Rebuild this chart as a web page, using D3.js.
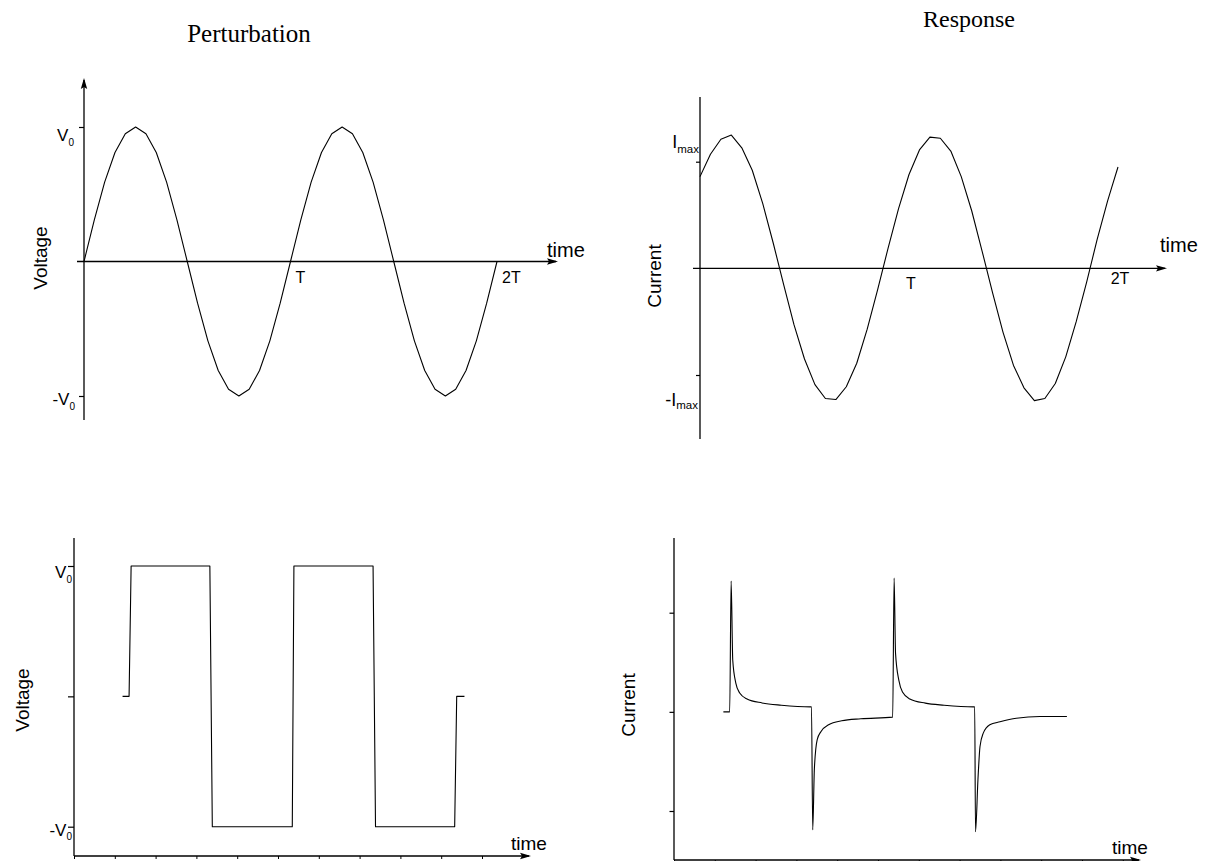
<!DOCTYPE html>
<html>
<head>
<meta charset="utf-8">
<script src="https://cdn.jsdelivr.net/npm/d3@7"></script>
<style>
	body { margin: 0; background: #fff; }
	text { font-family: "Liberation Sans", Arial, sans-serif; fill: #000; }
	.title { font-family: "Liberation Serif", "Times New Roman", serif; }
</style>
</head>
<body>
<svg id="chart" width="1207" height="861"></svg>
<script>
"use strict";

// sine perturbation: time in units of T, voltage in units of V0
const sineTime = [0, 0.05, 0.1, 0.15, 0.2, 0.25, 0.3, 0.35, 0.4, 0.45, 0.5, 0.55, 0.6, 0.65, 0.7, 0.75, 0.8, 0.85, 0.9, 0.95,
	1, 1.05, 1.1, 1.15, 1.2, 1.25, 1.3, 1.35, 1.4, 1.45, 1.5, 1.55, 1.6, 1.65, 1.7, 1.75, 1.8, 1.85, 1.9, 1.95, 2];
const sineVoltage = [0, 0.31, 0.59, 0.81, 0.95, 1, 0.95, 0.81, 0.59, 0.31, 0, -0.31, -0.59, -0.81, -0.95, -1, -0.95, -0.81, -0.59, -0.31,
	0, 0.31, 0.59, 0.81, 0.95, 1, 0.95, 0.81, 0.59, 0.31, 0, -0.31, -0.59, -0.81, -0.95, -1, -0.95, -0.81, -0.59, -0.31, 0];

// sine response: time in units of T, current in units of Imax
const responseTime = [0, 0.05, 0.1, 0.15, 0.2, 0.25, 0.3, 0.35, 0.4, 0.45, 0.5, 0.55, 0.6, 0.65, 0.7, 0.75, 0.8, 0.85, 0.9, 0.95,
	1, 1.05, 1.1, 1.15, 1.2, 1.25, 1.3, 1.35, 1.4, 1.45, 1.5, 1.55, 1.6, 1.65, 1.7, 1.75, 1.8, 1.85, 1.9, 1.95, 1.97, 2];
const responseCurrent = [0.86, 1.07, 1.21, 1.25, 1.13, 0.92, 0.61, 0.24, -0.15, -0.53, -0.85, -1.09, -1.22, -1.23, -1.11, -0.89, -0.57, -0.2, 0.19, 0.56,
	0.88, 1.11, 1.23, 1.22, 1.1, 0.86, 0.54, 0.16, -0.23, -0.6, -0.91, -1.12, -1.24, -1.22, -1.08, -0.83, -0.5, -0.13, 0.27, 0.63, 0.76, 0.95];

// square perturbation: time in tick units, voltage in units of V0
const squareTime = [1.19, 1.35, 1.4, 3.33, 3.39, 5.35, 5.39, 7.33, 7.39, 9.33, 9.38, 9.57];
const squareVoltage = [0, 0, 1, 1, -1, -1, 1, 1, -1, -1, 0, 0];

// transient response to the square wave
const transientTime = [1.21, 1.365, 1.4, 1.44, 1.515, 1.61, 1.79, 2.16, 2.63, 3.35, 3.37, 3.4, 3.44, 3.51, 3.6, 3.79, 4.11, 4.58, 5.36,
	5.395, 5.43, 5.51, 5.6, 5.78, 6.16, 6.62, 7.35, 7.37, 7.39, 7.45, 7.5, 7.58, 7.74, 7.99, 8.39, 8.97, 9.63];
const transientCurrent = [0, 0, 1.32, 0.52, 0.29, 0.19, 0.13, 0.09, 0.067, 0.05, 0.05, -1.19, -0.58, -0.28, -0.2, -0.13, -0.09, -0.07, -0.053,
	1.35, 0.59, 0.32, 0.2, 0.13, 0.088, 0.067, 0.05, 0.05, -1.21, -0.68, -0.35, -0.215, -0.13, -0.1, -0.064, -0.047, -0.047];

// tick values and labels
const periodTicks = [1, 2];
const periodLabels = ["T", "2T"];
const minorTicks = [0, 1, 2, 3, 4, 5, 6, 7, 8, 9, 10, 11];
const levelTicks = [-1, 0, 1];
const responseTicks = [-1, 1];

const svg = d3.select("#chart");

function arrowHead(g, x, y, dir) {
	// slim filled triangle with its tip at (x, y)
	let pts = dir === "right"
		? [[x, y], [x - 11, y - 3.2], [x - 9, y], [x - 11, y + 3.2]]
		: [[x, y], [x - 3.2, y + 11], [x, y + 9], [x + 3.2, y + 11]];
	g.append("path").attr("d", d3.line()(pts) + "Z").attr("fill", "#000");
}

function axisLine(g, pts) {
	g.append("path")
		.attr("d", d3.line()(pts))
		.attr("fill", "none")
		.attr("stroke", "#000")
		.attr("stroke-width", 1.3);
}

function subLabel(g, x, y, main, sub, size, subSize, dy) {
	let t = g.append("text")
		.attr("x", x).attr("y", y)
		.attr("text-anchor", "end")
		.style("font-size", size + "px")
		.text(main);
	t.append("tspan")
		.attr("dy", dy)
		.style("font-size", subSize + "px")
		.text(sub);
}

function yTitle(g, x, y, label) {
	g.append("text")
		.attr("transform", `translate(${x},${y}) rotate(-90)`)
		.attr("text-anchor", "middle")
		.style("font-size", "19px")
		.text(label);
}

function curve(g, xs, ys, t, v, shape) {
	g.append("path")
		.datum(d3.zip(t, v))
		.attr("fill", "none")
		.attr("stroke", "#000")
		.attr("stroke-width", 1.1)
		.attr("stroke-linejoin", "round")
		.attr("d", d3.line()
			.x(d => xs(d[0]))
			.y(d => ys(d[1]))
			.curve(shape || d3.curveLinear));
}

// titles
svg.append("text").attr("class", "title")
	.attr("x", 249).attr("y", 42)
	.attr("text-anchor", "middle")
	.style("font-size", "25px")
	.text("Perturbation");
svg.append("text").attr("class", "title")
	.attr("x", 969).attr("y", 27)
	.attr("text-anchor", "middle")
	.style("font-size", "24px")
	.text("Response");

// ---- top left: sine voltage ----
{
	let g = svg.append("g");
	let x = d3.scaleLinear().domain([0, 2]).range([84, 497]);
	let y = d3.scaleLinear().domain([-1, 1]).range([396, 127]);

	axisLine(g, [[x(0), 80], [x(0), 420]]);
	arrowHead(g, x(0), 78, "up");
	axisLine(g, [[77, y(0)], [556, y(0)]]);
	arrowHead(g, 558, y(0), "right");

	g.append("g")
		.attr("transform", `translate(${x(0)},0)`)
		.call(d3.axisLeft(y).tickValues(responseTicks).tickSize(5).tickFormat(""))
		.call(a => a.select(".domain").remove())
		.call(a => a.selectAll("line").attr("stroke-width", 1.2));

	subLabel(g, 74, y(1) + 14, "V", "0", 17, 10, 5);
	subLabel(g, 75, y(-1) + 9, "-V", "0", 17, 10, 5);

	g.selectAll(".plabel").data(periodTicks).enter().append("text")
		.attr("class", "plabel")
		.attr("x", d => x(d) + 5)
		.attr("y", y(0) + 21)
		.style("font-size", "16px")
		.text((d, i) => periodLabels[i]);

	g.append("text").attr("x", 547).attr("y", 257).style("font-size", "20px").text("time");
	yTitle(g, 46.5, 258, "Voltage");

	curve(g, x, y, sineTime, sineVoltage);
}

// ---- top right: sine current ----
{
	let g = svg.append("g");
	let x = d3.scaleLinear().domain([0, 2]).range([700, 1118]);
	let y = d3.scaleLinear().domain([-1, 1]).range([375, 161.7]);

	axisLine(g, [[x(0), 97], [x(0), 439]]);
	axisLine(g, [[693, y(0)], [1165, y(0)]]);
	arrowHead(g, 1167, y(0), "right");

	g.append("g")
		.attr("transform", `translate(${x(0)},0)`)
		.call(d3.axisLeft(y).tickValues(responseTicks).tickSize(4).tickFormat(""))
		.call(a => a.select(".domain").remove())
		.call(a => a.selectAll("line").attr("stroke-width", 1.2));

	subLabel(g, 699, 148, "I", "max", 18, 11.5, 5);
	subLabel(g, 698, 406, "-I", "max", 18, 11.5, 3);

	g.selectAll(".plabel").data(periodTicks).enter().append("text")
		.attr("class", "plabel")
		.attr("x", d => x(d) + 2)
		.attr("y", (d, i) => y(0) + (i ? 16 : 21))
		.attr("text-anchor", "middle")
		.style("font-size", "16px")
		.text((d, i) => periodLabels[i]);

	g.append("text").attr("x", 1160).attr("y", 252).style("font-size", "20px").text("time");
	yTitle(g, 661, 276, "Current");

	curve(g, x, y, responseTime, responseCurrent);
}

// ---- bottom left: square voltage ----
{
	let g = svg.append("g");
	let x = d3.scaleLinear().domain([0, 10]).range([74, 482]);
	let y = d3.scaleLinear().domain([-1, 1]).range([826.7, 566]);

	axisLine(g, [[x(0), 538], [x(0), 856]]);
	axisLine(g, [[x(0), 856], [529, 856]]);
	arrowHead(g, 531, 856, "right");

	g.append("g")
		.attr("transform", `translate(${x(0)},0)`)
		.call(d3.axisLeft(y).tickValues(levelTicks).tickSize(6).tickFormat(""))
		.call(a => a.select(".domain").remove())
		.call(a => a.selectAll("line").attr("stroke-width", 1.2));
	g.append("g")
		.attr("transform", "translate(0,856)")
		.call(d3.axisBottom(x).tickValues(minorTicks.slice(0, 11)).tickSize(3).tickFormat(""))
		.call(a => a.select(".domain").remove());

	subLabel(g, 72, y(1) + 12, "V", "0", 17, 10, 5);
	subLabel(g, 72, y(-1) + 9, "-V", "0", 17, 10, 4);

	g.append("text").attr("x", 511).attr("y", 850).style("font-size", "19px").text("time");
	yTitle(g, 29, 700, "Voltage");

	curve(g, x, y, squareTime, squareVoltage);
}

// ---- bottom right: transient current ----
{
	let g = svg.append("g");
	let x = d3.scaleLinear().domain([0, 10]).range([674, 1082]);
	let y = d3.scaleLinear().domain([-1, 1]).range([811, 612.7]);

	axisLine(g, [[x(0), 538], [x(0), 860]]);
	axisLine(g, [[x(0), 860], [1139, 860]]);
	arrowHead(g, 1141, 860, "right");

	g.append("g")
		.attr("transform", `translate(${x(0)},0)`)
		.call(d3.axisLeft(y).tickValues(levelTicks).tickSize(4.5).tickFormat(""))
		.call(a => a.select(".domain").remove())
		.call(a => a.selectAll("line").attr("stroke-width", 1.2));
	g.append("g")
		.attr("transform", "translate(0,860)")
		.call(d3.axisBottom(x).tickValues(minorTicks).tickSize(3).tickFormat(""))
		.call(a => a.select(".domain").remove());

	g.append("text").attr("x", 1112).attr("y", 854).style("font-size", "19px").text("time");
	yTitle(g, 635, 705, "Current");

	curve(g, x, y, transientTime, transientCurrent, d3.curveMonotoneX);
}
</script>
</body>
</html>
